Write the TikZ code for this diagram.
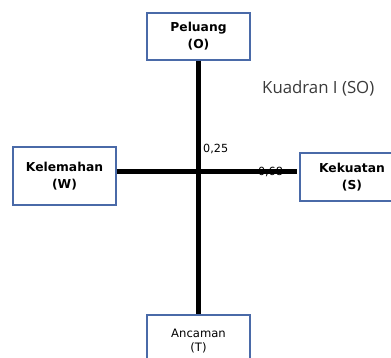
\documentclass[tikz,border=0pt]{standalone}
\usepackage{fontspec}
\setmainfont{DejaVu Sans}
\newfontfamily\kfont{Open Sans}
\definecolor{boxborder}{HTML}{4A6AA8}
\definecolor{kcol}{HTML}{3A3A3A}
\begin{document}
\begin{tikzpicture}[x=1pt,y=-1pt,
  quadbox/.style={draw=boxborder, line width=1.3pt, fill=white, align=center, inner sep=0pt},
  boldtxt/.style={font=\fontsize{12.3}{17}\selectfont\bfseries},
  axis/.style={line width=5pt, black},
  numlbl/.style={font=\fontsize{11.2}{12}\selectfont, inner sep=0pt}]
\useasboundingbox (0,0) rectangle (391,358);
\clip (0,0) rectangle (391,358);
\node[quadbox, boldtxt, minimum width=103pt, minimum height=47pt] (O) at (198.5,36.5) {Peluang\\(O)};
\node[quadbox, boldtxt, minimum width=103pt, minimum height=58pt] (W) at (64.5,176) {Kelemahan\\(W)};
\node[quadbox, boldtxt, minimum width=104pt, minimum height=48pt] (S) at (352,177) {Kekuatan\\(S)};
\node[quadbox, font=\fontsize{11.6}{14}\selectfont, minimum width=103pt, minimum height=53pt] (T) at (198.5,341.5) {Ancaman\\(T)};
\coordinate (he) at (297,171.5);
\coordinate (hs) at (116,171.5);
\draw[axis] (O.south) -- (T.north);
\draw[axis] (W.east |- hs) -- (he);
\node[numlbl, anchor=west] (n25) at (203,149) {0,25};
\node[numlbl, anchor=center] (n68) at (270.5,172) {0,68};
\node[font=\kfont\fontsize{16.8}{18}\selectfont, text=kcol, anchor=west, inner sep=0pt] (K) at (262,88.5) {Kuadran I (SO)};
\end{tikzpicture}
\end{document}
